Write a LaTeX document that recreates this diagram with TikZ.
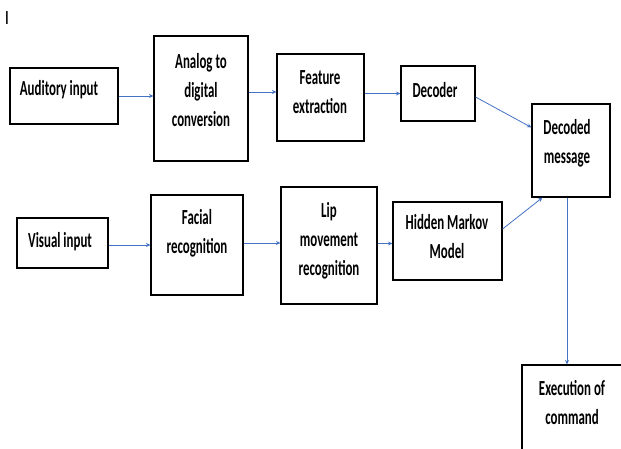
\documentclass[tikz,border=0pt]{standalone}
\usepackage{fontspec}
\newfontfamily\boxfont{Carlito}[FakeStretch=0.6]
\usetikzlibrary{positioning, arrows.meta}

\definecolor{linkblue}{HTML}{4472C4}

\tikzset{
    block/.style={draw=black, line width=1.1pt, inner sep=0pt},
    txt/.style={align=center, inner sep=0pt,
        font=\boxfont\bfseries\fontsize{21.5}{29}\selectfont},
    link/.style={draw=linkblue, line width=0.8pt,
        -{Stealth[length=4.5pt, width=4pt]}}
}

\begin{document}
\begin{tikzpicture}[x=1pt, y=-1pt]
    \useasboundingbox (0,0) rectangle (621,448);
    \clip (0,0) rectangle (621,448);

    % speech branch
    \node[block, minimum width=108, minimum height=56] (aud) at (64,96) {};
    \node[txt] (audtxt) at (59,90) {Auditory input};
    \node[block, minimum width=94, minimum height=125] (adc) at (201,98.5) {};
    \node[txt] (adctxt) at (201,90) {Analog to\\digital\\conversion};
    \node[block, minimum width=87, minimum height=87] (fe) at (320.5,97.5) {};
    \node[txt] (fetxt) at (320,92) {Feature\\extraction};
    \node[block, minimum width=74, minimum height=55] (dec) at (438,93.5) {};
    \node[txt] (dectxt) at (435,90) {Decoder};

    % lip-reading branch
    \node[block, minimum width=91, minimum height=50] (vis) at (62.5,243) {};
    \node[txt] (vistxt) at (60,242) {Visual input};
    \node[block, minimum width=92, minimum height=100] (fac) at (197,245) {};
    \node[txt] (factxt) at (197,233) {Facial\\recognition};
    \node[block, minimum width=96, minimum height=117] (lip) at (329,245.5) {};
    \node[txt] (liptxt) at (329,241) {Lip\\movement\\recognition};
    \node[block, minimum width=109, minimum height=78] (hmm) at (447.5,241) {};
    \node[txt] (hmmtxt) at (447,237) {Hidden Markov\\Model};

    % output
    \node[block, minimum width=78, minimum height=93] (dm) at (571,150.5) {};
    \node[txt] (dmtxt) at (567,143) {Decoded\\message};
    \node[block, minimum width=118, minimum height=110] (exe) at (581,420) {};
    \node[txt] (exetxt) at (572,403) {Execution of\\command};

    \node[txt, font=\boxfont\bfseries\fontsize{20}{22}\selectfont] (mark) at (7,18.5) {I};

    % connectors
    \draw[link] (aud.east) -- (aud.east -| adc.west);
    \draw[link] ([yshift=6.5pt]adc.east) -- ([yshift=6.5pt]adc.east -| fe.west);
    \draw[link] (fe.east |- dec.west) -- (dec.west);
    \draw[link] ([yshift=-3.5pt]dec.east) -- ([yshift=-24pt]dm.north west);
    \draw[link] (vis.east |- fac.west) -- (fac.west);
    \draw[link] ([yshift=2pt]fac.east) -- ([yshift=2pt]fac.east -| lip.west);
    \draw[link] ([yshift=2pt]lip.east) -- ([yshift=2pt]lip.east -| hmm.west);
    \draw[link] ([yshift=12pt]hmm.east) -- ([xshift=11pt]dm.south west);
    \draw[link] ([xshift=-4pt]dm.south) -- ([xshift=-4pt]dm.south |- exe.north);
\end{tikzpicture}
\end{document}
